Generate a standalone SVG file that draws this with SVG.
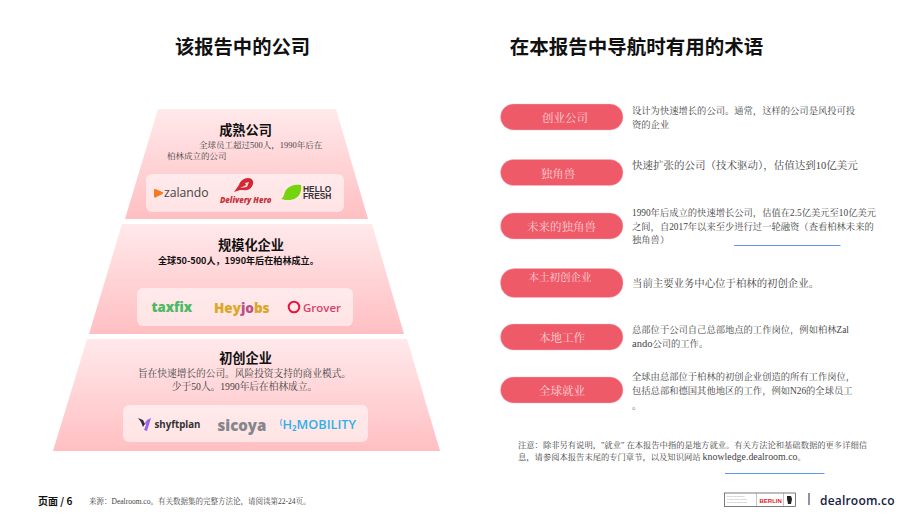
<svg xmlns="http://www.w3.org/2000/svg" width="920" height="518" viewBox="0 0 920 518">
<style>
.h{font-family:"Noto Sans CJK SC","Noto Sans",sans-serif;font-weight:700;fill:#111}
.s{font-family:"Liberation Serif","Noto Serif CJK SC","Noto Sans CJK SC",serif;fill:#444}
.pill{fill:#ef5a69;stroke:#f8b9c0;stroke-width:.4}
.pt{font-family:"Liberation Serif","Noto Serif CJK SC","Noto Sans CJK SC",serif;font-size:11.500px;fill:#fbd3d7;text-anchor:middle}
.d{font-size:9.300px}
.card{fill:#fff;fill-opacity:.55}
.tier{fill:url(#g)}
.logo{font-family:"Open Sans","Noto Sans",sans-serif}
.lb{font-family:"Liberation Sans",sans-serif;font-weight:700}
.link{stroke:#4a8cf0;stroke-width:.9}
</style>
<defs><linearGradient id="g" x1="0" y1="0" x2="0" y2="1"><stop offset="0" stop-color="#ffe9eb"/><stop offset="1" stop-color="#ffbfc2"/></linearGradient></defs>
<rect width="920" height="518" fill="#fff"/>
<text class="h" x="242.500" y="54" font-size="19.300" text-anchor="middle">该报告中的公司</text>
<text class="h" x="636.500" y="54" font-size="19.500" text-anchor="middle">在本报告中导航时有用的术语</text>

<g id="tier-mature">
<polygon class="tier" points="158,109 336,109 368,219 125,219"/>
<text class="h" x="245.500" y="135" font-size="13.200" text-anchor="middle">成熟公司</text>
<text class="s" x="199" y="148" font-size="8.500">全球员工超过500人，1990年后在</text>
<text class="s" x="167" y="159" font-size="8.500">柏林成立的公司</text>
<rect class="card" x="146" y="174" width="198" height="38" rx="6"/>
<path d="M155 190l7 3-7 3.500z" fill="#f47a20" stroke="#f47a20" stroke-width="2" stroke-linejoin="round"/>
<text class="logo" x="164" y="197" font-size="12.200" fill="#444">zalando</text>
<path d="M234 192l5-7c1-4 5-7 9-7c4 0 6 3 5 6c-1 4-5 7-9 6l-4 0z" fill="#d32733"/>
<path d="M240 188l6-3-1-2 4-1-2 5z" fill="#fff" fill-opacity=".8"/>
<text class="logo" x="220" y="203" font-size="7.800" font-weight="800" font-style="italic" fill="#c8303c">Delivery Hero</text>
<path d="M281 199c3-1 3-6 5-9c3-4 8-6 15-5c1 5-1 11-5 13c-5 3-11 2-15 1z" fill="#74d50f"/>
<text class="lb" font-size="8.400" fill="#333"><tspan x="303" y="192">HELLO</tspan><tspan x="303" y="199.200">FRESH</tspan></text>
</g>

<g id="tier-scaleup">
<polygon class="tier" points="122,224 372,224 404,334 89,334"/>
<text class="h" x="251" y="250" font-size="13.200" text-anchor="middle">规模化企业</text>
<text class="h" x="158" y="264" font-size="9.100">全球50-500人，1990年后在柏林成立。</text>
<rect class="card" x="137" y="288" width="216" height="38" rx="6"/>
<text class="logo" x="151.500" y="312" font-size="13.200" font-weight="800" fill="#4cb963">taxfix</text>
<text class="logo" x="214" y="313" font-size="13.500" font-weight="800" fill="#dba726">Hey<tspan fill="#b9508a">jo</tspan>bs</text>
<circle cx="294" cy="307" r="5.300" fill="none" stroke="#e8133f" stroke-width="2"/>
<text class="logo" x="303" y="312" font-size="11.500" font-weight="600" fill="#d9416a">Grover</text>
</g>

<g id="tier-startup">
<polygon class="tier" points="87,339 407,339 440,451 53,451"/>
<text class="h" x="245.500" y="363" font-size="13.200" text-anchor="middle">初创企业</text>
<text class="s" x="244.500" y="377" font-size="9.700" text-anchor="middle">旨在快速增长的公司。风险投资支持的商业模式。</text>
<text class="s" x="244.500" y="390" font-size="9.700" text-anchor="middle">少于50人。1990年后在柏林成立。</text>
<rect class="card" x="123" y="405" width="245" height="37" rx="6"/>
<path d="M138 418l5 2 2 4-2 3-2-5z" fill="#2e2a3a"/>
<path d="M151 418l-4 13-3-1 2-5-1-2 2-3z" fill="#9866ea"/>
<text class="logo" x="154.500" y="428" font-size="9.700" font-weight="700" fill="#333">shyftplan</text>
<text class="logo" x="217.500" y="431" font-size="15" font-weight="800" fill="#85868c">sicoya</text>
<text class="logo" x="279.500" y="429" font-size="12.700" font-weight="600" fill="#2cb1ea">⁽H₂MOBILITY</text>
</g>

<g id="term-1"><rect class="pill" x="500.500" y="104" width="122.500" height="26" rx="13"/><text class="pt" x="565" y="122">创业公司</text>
<text class="s d" x="632" y="114">设计为快速增长的公司。通常，这样的公司是风投可投</text><text class="s d" x="632" y="128">资的企业</text></g>
<g id="term-2"><rect class="pill" x="500.500" y="159.500" width="122.500" height="26" rx="13"/><text class="pt" x="558" y="178">独角兽</text>
<text class="s" x="632" y="169" font-size="10.500">快速扩张的公司（技术驱动），估值达到10亿美元</text></g>
<g id="term-3"><rect class="pill" x="500.500" y="213" width="122.500" height="26" rx="13"/><text class="pt" x="561.500" y="231">未来的独角兽</text>
<text class="s d" x="632" y="216">1990年后成立的快速增长公司，估值在2.5亿美元至10亿美元</text><text class="s d" x="632" y="230">之间，自2017年以来至少进行过一轮融资（查看柏林未来的</text><text class="s d" x="632" y="243">独角兽）</text></g>
<g id="term-4"><rect class="pill" x="500.500" y="268.500" width="122.500" height="29" rx="14"/><text class="pt" x="560" y="280.500" style="font-size:10.500px">本土初创企业</text>
<text class="s" x="632" y="287" font-size="10.400">当前主要业务中心位于柏林的初创企业。</text></g>
<g id="term-5"><rect class="pill" x="500.500" y="324" width="122.500" height="26" rx="13"/><text class="pt" x="562" y="342">本地工作</text>
<text class="s d" x="632" y="333">总部位于公司自己总部地点的工作岗位，例如柏林Zal</text><text class="s d" x="632" y="347"><tspan font-size="10.500">ando</tspan>公司的工作。</text></g>
<g id="term-6"><rect class="pill" x="500.500" y="377" width="122.500" height="26" rx="13"/><text class="pt" x="562" y="395">全球就业</text>
<text class="s d" x="632" y="380">全球由总部位于柏林的初创企业创造的所有工作岗位，</text><text class="s d" x="632" y="394">包括总部和德国其他地区的工作，例如N26的全球员工</text><text class="s d" x="632" y="409">。</text></g>

<g id="connectors">
<line class="link" x1="734" y1="245.500" x2="840.500" y2="245.500"/>
<line class="link" x1="725" y1="473.500" x2="824.500" y2="473.500"/>
</g>

<text class="s" x="518" y="448" font-size="8.300">注意：除非另有说明，"就业" 在本报告中指的是地方就业。有关方法论和基础数据的更多详细信</text>
<text class="s" x="518" y="460" font-size="8.300">息，请参阅本报告末尾的专门章节，以及知识网站 <tspan font-size="9.900">knowledge.dealroom.co</tspan>。</text>

<text class="h" x="38" y="505" font-size="10" fill="#222">页面 / 6</text>
<text class="s" x="89" y="504" font-size="7.500" fill="#666">来源：Dealroom.co。有关数据集的完整方法论，请阅读第22-24页。</text>

<g id="footer-logo">
<rect x="724.500" y="493" width="71" height="13.500" fill="#fff" stroke="#444" stroke-width=".7"/>
<line x1="756.500" y1="493" x2="756.500" y2="506.500" stroke="#888" stroke-width=".5"/>
<line x1="783.500" y1="493" x2="783.500" y2="506.500" stroke="#888" stroke-width=".5"/>
<text font-family="Liberation Sans,sans-serif" font-size="2" fill="#999"><tspan x="727" y="497">Senate Department</tspan><tspan x="727" y="500">for Economics, Energy</tspan><tspan x="727" y="503">and Public Enterprises</tspan></text>
<text x="759.500" y="502.500" font-family="Liberation Sans,sans-serif" font-size="6" font-weight="700" fill="#e2231a">BERLIN</text>
<path d="M787 496h4l1 3-1 5h-3l-1-5z" fill="#222"/>
<line x1="809" y1="493" x2="809" y2="505" stroke="#1a2a4a" stroke-width="1"/>
<text x="820" y="505" font-family="Open Sans,Noto Sans,sans-serif" font-size="12" font-weight="600" fill="#14213f" letter-spacing=".2">dealroom.co</text>
</g>
</svg>
